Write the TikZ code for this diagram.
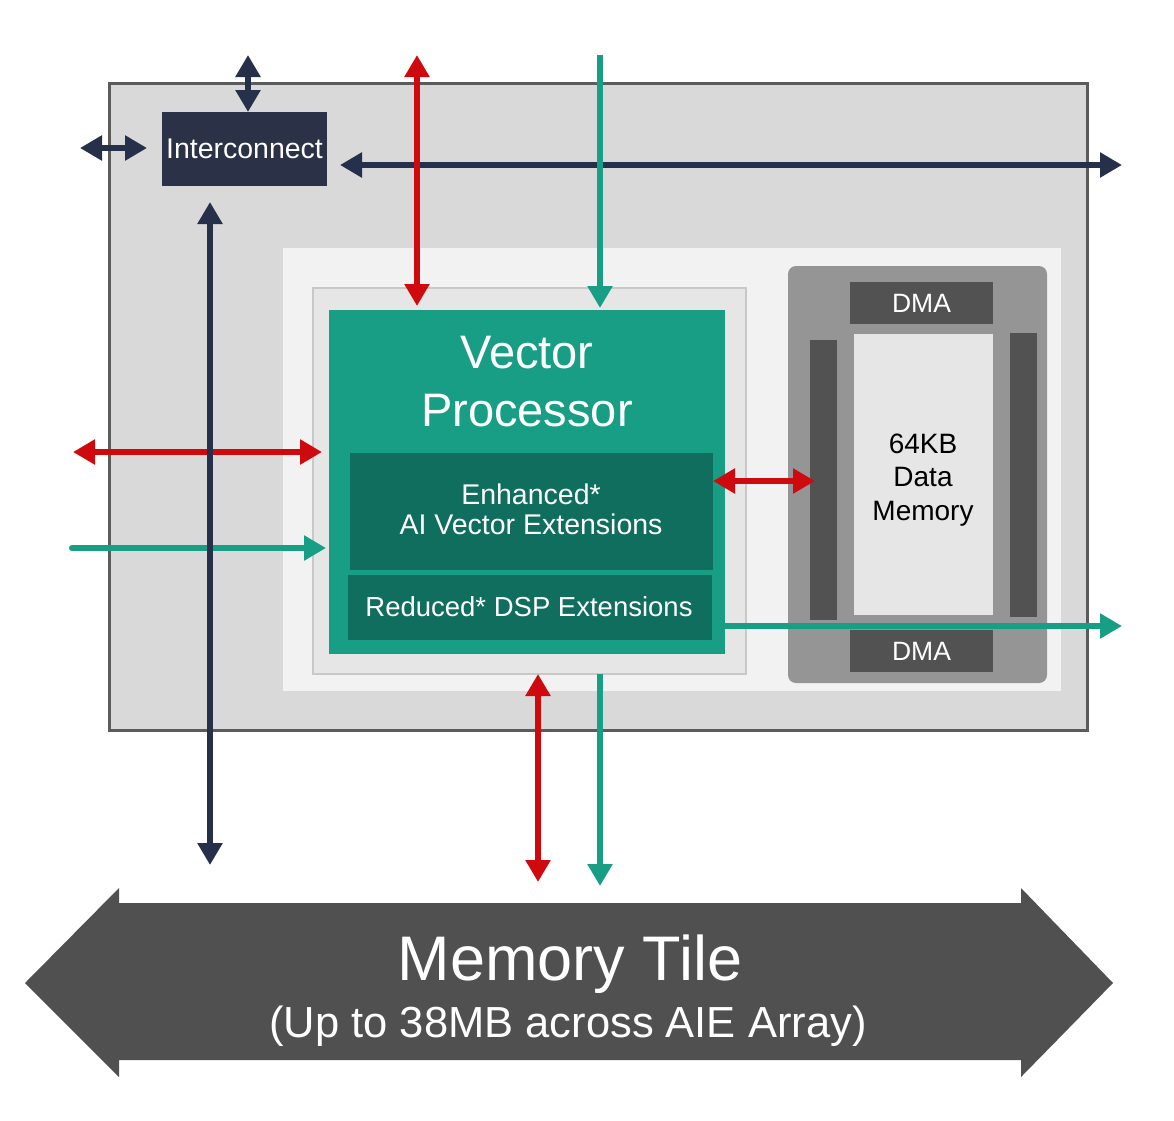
\documentclass[tikz,border=0pt]{standalone}
\usepackage{fontspec}
\setmainfont{Liberation Sans}
\usetikzlibrary{arrows.meta}
\definecolor{tealc}{HTML}{179E85}
\definecolor{tealdark}{HTML}{0F6E5E}
\definecolor{redc}{HTML}{CF0A0F}
\definecolor{navy}{HTML}{27304A}
\definecolor{icfill}{HTML}{2B3147}
\definecolor{outerfill}{HTML}{D9D9D9}
\definecolor{outerline}{HTML}{5B5B5B}
\definecolor{lightfill}{HTML}{F2F2F2}
\definecolor{framefill}{HTML}{E6E6E6}
\definecolor{frameline}{HTML}{C8C8C8}
\definecolor{memblock}{HTML}{959595}
\definecolor{darkbar}{HTML}{525252}
\definecolor{datamem}{HTML}{E6E6E6}
\definecolor{tilegrey}{HTML}{505050}
\begin{document}
\begin{tikzpicture}[x=1pt,y=-1pt,
  box/.style={inner sep=0pt, outer sep=0pt, anchor=north west},
  txt/.style={inner sep=0pt, outer sep=0pt, align=center, text=white},
  conn/.style={line width=6pt, >={Triangle[length=22pt,width=24pt]}},
  navyarr/.style={conn, draw=navy, fill=navy},
  redarr/.style={conn, draw=redc, fill=redc},
  tealarr/.style={conn, draw=tealc, fill=tealc}
]
\useasboundingbox (0,0) rectangle (1174,1120);

% outer tile
\node[box, fill=outerfill, draw=outerline, line width=3pt, minimum width=978pt, minimum height=647pt] (tile) at (109,83) {};
% light area
\node[box, fill=lightfill, minimum width=778pt, minimum height=443pt] (light) at (283,248) {};
% inner frame around vector processor
\node[box, fill=framefill, draw=frameline, line width=2pt, minimum width=433pt, minimum height=386pt] (frame) at (313,288) {};
% vector processor
\node[box, fill=tealc, minimum width=396pt, minimum height=344pt] (vp) at (329,310) {};
\node[txt, font=\fontsize{47}{58}\selectfont] (vptxt) at (527,382) {Vector\\Processor};
\node[box, fill=tealdark, minimum width=363pt, minimum height=117pt] (enh) at (350,453) {};
\node[txt, font=\fontsize{28.5}{30}\selectfont] (enhtxt) at (531,509) {Enhanced*\\AI Vector Extensions};
\node[box, fill=tealdark, minimum width=364pt, minimum height=65pt] (red) at (348,575) {};
\node[txt, font=\fontsize{27.5}{30}\selectfont] (redtxt) at (529,607) {Reduced* DSP Extensions};

% memory block
\node[box, fill=memblock, rounded corners=8pt, minimum width=259pt, minimum height=417pt] (mem) at (788,266) {};
\node[box, fill=darkbar, minimum width=143pt, minimum height=42pt] (dmatop) at (850,282) {};
\node[txt, font=\fontsize{26.5}{30}\selectfont] at (dmatop.center) {DMA};
\node[box, fill=darkbar, minimum width=143pt, minimum height=42pt] (dmabot) at (850,630) {};
\node[txt, font=\fontsize{26.5}{30}\selectfont] at (dmabot.center) {DMA};
\node[box, fill=darkbar, minimum width=27pt, minimum height=280pt] (barl) at (810,340) {};
\node[box, fill=darkbar, minimum width=27pt, minimum height=284pt] (barr) at (1010,333) {};
\node[box, fill=datamem, minimum width=139pt, minimum height=281pt] (dm) at (854,334) {};
\node[txt, text=black, font=\fontsize{28}{33.5}\selectfont] (dmtxt) at (923,480) {64KB\\Data\\Memory};

% interconnect
\node[box, fill=icfill, minimum width=165pt, minimum height=74pt] (ic) at (162,112) {};
\node[txt, font=\fontsize{28.5}{30}\selectfont] (ictxt) at (ic.center) {Interconnect};

% coordinates for free ends
\coordinate (hnR) at (1122,165);
\coordinate (hnL) at (340,165);
\coordinate (rtTop) at (417,55);
\coordinate (rtBot) at (417,306);
\coordinate (ttTop) at (600,55);
\coordinate (ttBot) at (600,308);
\coordinate (rlL) at (73,452);
\coordinate (rlR) at (322,452);
\coordinate (tlL) at (72,548);
\coordinate (tlR) at (326,548);
\coordinate (rmL) at (713,481);
\coordinate (rmR) at (815,481);
\coordinate (trL) at (725,626);
\coordinate (trR) at (1122,626);
\coordinate (rbTop) at (538,674);
\coordinate (rbBot) at (538,882);
\coordinate (tbTop) at (600,674);
\coordinate (tbBot) at (600,886);
\coordinate (nvTop) at (210,202);
\coordinate (nvBot) at (210,865);
\coordinate (icUp) at (248,55);
\coordinate (icLeft) at (80,148);
\coordinate (icLeftR) at (147,148);

% connectors
\draw[navyarr, <->] (hnL) -- (hnR);
\draw[redarr, <->] (rtTop) -- (rtBot);
\draw[tealarr, ->] (ttTop) -- (ttBot);
\draw[redarr, <->] (rlL) -- (rlR);
\draw[tealarr, ->, line cap=round] (tlL) -- (tlR);
\draw[navyarr, <->] (nvTop) -- (nvBot);
\draw[redarr, <->] (rmL) -- (rmR);
\draw[tealarr, ->] (trL) -- (trR);
\draw[redarr, <->] (rbTop) -- (rbBot);
\draw[tealarr, ->] (tbTop) -- (tbBot);
\draw[navyarr, <->] (icUp) -- (ic.north -| icUp);
\draw[navyarr, <->] (icLeft) -- (icLeftR);

% memory tile double arrow
\fill[tilegrey] (25,983) -- (119,888) -- (119,903) -- (1021,903) -- (1021,888)
  -- (1113,983) -- (1021,1077) -- (1021,1060) -- (119,1060) -- (119,1077) -- cycle;
\node[txt, anchor=base, font=\fontsize{63}{70}\selectfont] (mtitle) at (570,980) {Memory Tile};
\node[txt, anchor=base, font=\fontsize{43.5}{50}\selectfont] (msub) at (568,1037) {(Up to 38MB across AIE Array)};
\end{tikzpicture}
\end{document}
